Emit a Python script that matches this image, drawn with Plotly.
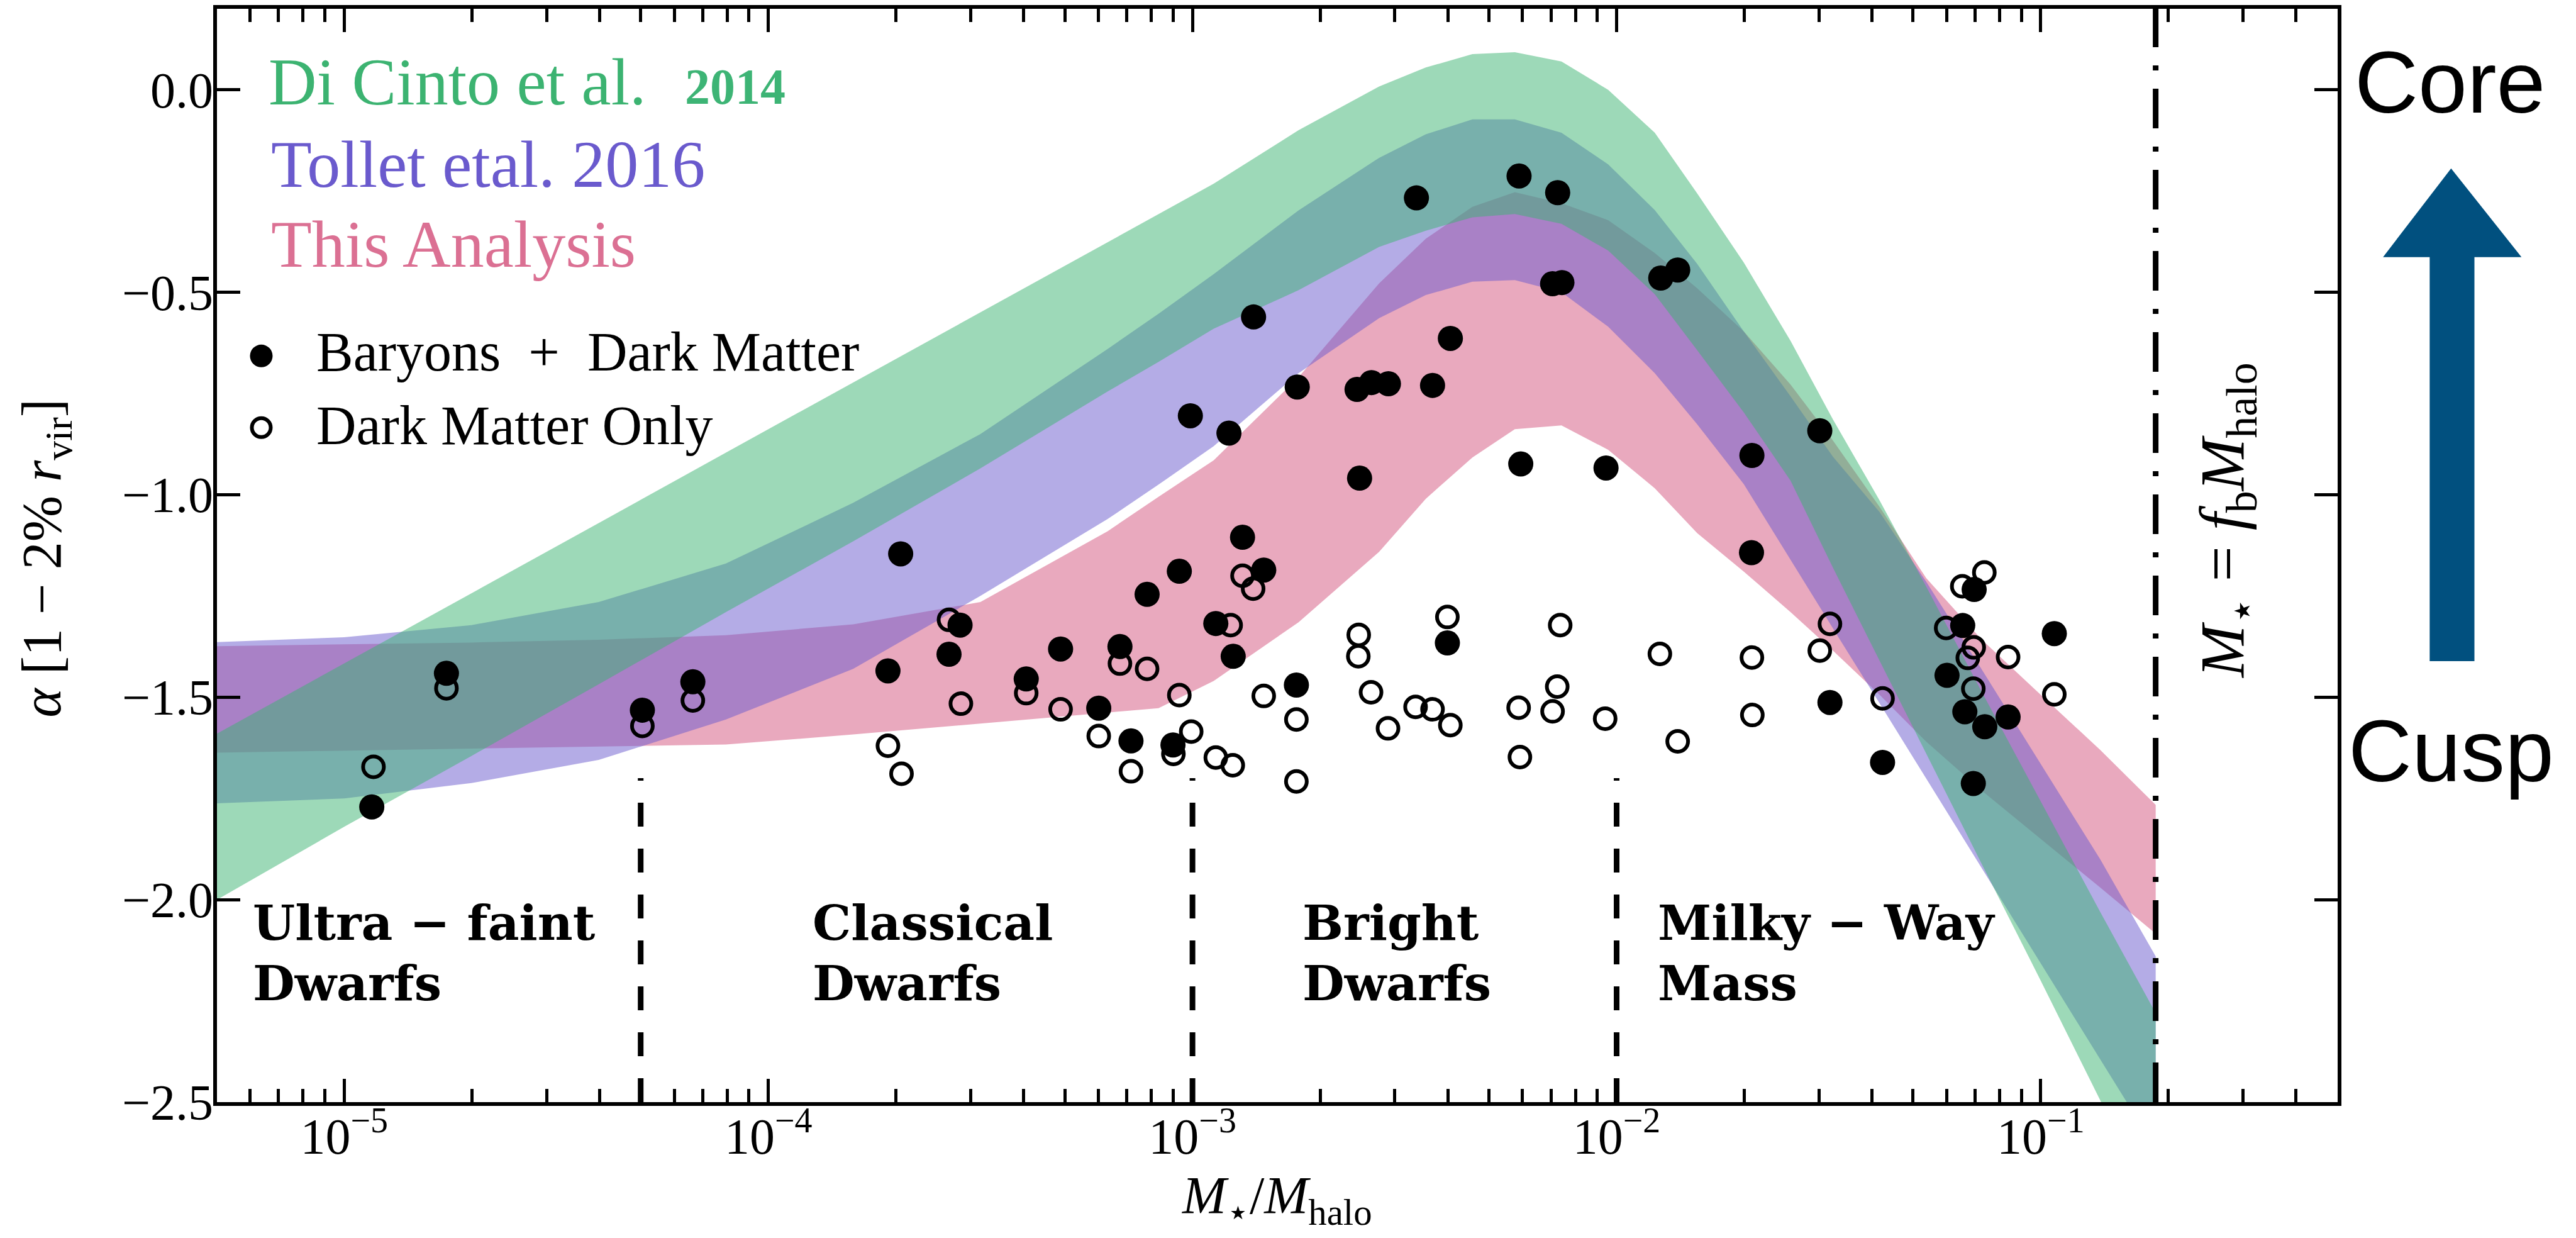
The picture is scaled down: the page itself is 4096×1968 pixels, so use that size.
import numpy as np
import plotly.graph_objects as go

# ---------------- data ----------------
# log10(M_star / M_halo) sample positions of the three bands
band_log_ratio = [-5.3, -5.0, -4.7, -4.4, -4.1, -3.8, -3.5, -3.2, -3.08, -2.95, -2.75, -2.56, -2.45,
                  -2.34, -2.24, -2.13, -2.02, -1.91, -1.81, -1.70, -1.59, -1.49, -1.38, -1.27, -1.14,
                  -1.00, -0.86, -0.729]
dicinto_upper = [-1.590, -1.417, -1.243, -1.070, -0.896, -0.723, -0.550, -0.376, -0.307, -0.232, -0.100,
                 0.008, 0.055, 0.088, 0.093, 0.070, 0.000, -0.106, -0.256, -0.427, -0.620, -0.814,
                 -1.014, -1.227, -1.485, -1.757, -2.030, -2.280]
dicinto_lower = [-2.000, -1.820, -1.645, -1.468, -1.290, -1.115, -0.935, -0.745, -0.672, -0.590, -0.495,
                 -0.388, -0.348, -0.315, -0.307, -0.331, -0.397, -0.505, -0.643, -0.797, -0.965, -1.180,
                 -1.410, -1.640, -1.910, -2.200, -2.495, -2.770]
tollet_upper = [-1.364, -1.352, -1.322, -1.265, -1.170, -1.020, -0.850, -0.640, -0.553, -0.455, -0.298,
                -0.168, -0.110, -0.073, -0.073, -0.106, -0.184, -0.297, -0.430, -0.597, -0.757, -0.906,
                -1.043, -1.215, -1.430, -1.665, -1.900, -2.140]
tollet_lower = [-1.762, -1.750, -1.712, -1.655, -1.555, -1.430, -1.250, -1.060, -0.975, -0.880, -0.700,
                -0.564, -0.507, -0.474, -0.470, -0.500, -0.585, -0.700, -0.826, -0.974, -1.160, -1.330,
                -1.515, -1.700, -1.920, -2.157, -2.394, -2.615]
this_upper = [-1.374, -1.370, -1.365, -1.358, -1.347, -1.320, -1.265, -1.090, -1.005, -0.915, -0.710,
              -0.478, -0.368, -0.289, -0.253, -0.280, -0.322, -0.403, -0.490, -0.597, -0.728, -0.866,
              -1.030, -1.206, -1.357, -1.494, -1.630, -1.766]
this_lower = [-1.637, -1.633, -1.628, -1.622, -1.617, -1.592, -1.565, -1.538, -1.527, -1.460, -1.315,
              -1.141, -1.010, -0.908, -0.838, -0.829, -0.889, -0.984, -1.095, -1.190, -1.290, -1.385,
              -1.494, -1.610, -1.730, -1.850, -1.970, -2.084]

# Baryons + Dark Matter (filled points)
bdm_log_ratio = [-4.935, -4.759, -4.297, -4.178, -3.688, -3.718, -3.574, -3.548, -3.392, -3.311, -3.221,
                 -3.171, -3.145, -3.107, -3.046, -3.031, -3.005, -2.945, -2.914, -2.904, -2.882, -2.856,
                 -2.832, -2.755, -2.753, -2.612, -2.606, -2.578, -2.538, -2.472, -2.434, -2.399, -2.392,
                 -2.230, -2.226, -2.151, -2.129, -2.139, -2.025, -1.896, -1.856, -1.681, -1.682, -1.521,
                 -1.497, -1.373, -1.184, -1.157, -1.221, -1.179, -1.132, -1.077, -1.159, -0.968]
bdm_alpha = [-1.771, -1.441, -1.532, -1.462, -1.146, -1.435, -1.394, -1.322, -1.455, -1.381, -1.527,
             -1.375, -1.608, -1.246, -1.618, -1.189, -0.805, -1.318, -0.848, -1.399, -1.105, -0.561,
             -1.186, -1.470, -0.734, -0.740, -0.959, -0.723, -0.726, -0.267, -0.730, -1.366, -0.614,
             -0.213, -0.924, -0.479, -0.476, -0.254, -0.934, -0.465, -0.445, -0.903, -1.143, -0.842,
             -1.513, -1.661, -1.323, -1.234, -1.446, -1.536, -1.573, -1.549, -1.713, -1.343]

# Dark Matter Only (open points)
dmo_log_ratio = [-4.931, -4.759, -4.297, -4.178, -3.718, -3.686, -3.574, -3.546, -3.392, -3.311, -3.221,
                 -3.171, -3.145, -3.107, -3.045, -3.031, -3.003, -2.945, -2.905, -2.910, -2.882, -2.857,
                 -2.832, -2.755, -2.755, -2.608, -2.609, -2.579, -2.539, -2.474, -2.434, -2.392, -2.399,
                 -2.231, -2.228, -2.133, -2.140, -2.151, -2.027, -1.898, -1.856, -1.681, -1.680, -1.521,
                 -1.497, -1.373, -1.133, -1.185, -1.223, -1.158, -1.172, -1.077, -1.159, -0.968]
dmo_alpha = [-1.672, -1.478, -1.571, -1.508, -1.620, -1.689, -1.309, -1.516, -1.490, -1.530, -1.596,
             -1.417, -1.683, -1.430, -1.640, -1.495, -1.585, -1.649, -1.668, -1.322, -1.200, -1.232,
             -1.497, -1.555, -1.708, -1.346, -1.399, -1.488, -1.577, -1.524, -1.530, -1.569, -1.302,
             -1.526, -1.648, -1.322, -1.474, -1.535, -1.553, -1.393, -1.609, -1.402, -1.544, -1.385,
             -1.319, -1.503, -1.192, -1.226, -1.329, -1.377, -1.403, -1.401, -1.479, -1.493]

regime_bounds = [5e-5, 1e-3, 1e-2]
regime_line_alpha = [-2.5, -1.70]
fb_ratio = 0.1866
fb_line_alpha = [-2.5, 0.2]

xtick_vals = [1e-5, 1e-4, 1e-3, 1e-2, 1e-1]
xtick_text = ["10<sup>−5</sup>", "10<sup>−4</sup>", "10<sup>−3</sup>", "10<sup>−2</sup>", "10<sup>−1</sup>"]
ytick_vals = [-2.5, -2.0, -1.5, -1.0, -0.5, 0.0]
ytick_text = ["−2.5", "−2.0", "−1.5", "−1.0", "−0.5", "0.0"]

# ---------------- styling ----------------
SERIF = "Liberation Serif"
BOLD_SERIF = "DejaVu Serif"
SANS = "Liberation Sans"
GREEN = "#3cb371"
PURPLE = "#6a5acd"
PINK = "#db7093"

band_x = 10 ** np.array(band_log_ratio)

fig = go.Figure()


def add_band(upper, lower, color):
    xs = np.concatenate([band_x, band_x[::-1]])
    ys = np.concatenate([np.array(upper), np.array(lower)[::-1]])
    fig.add_trace(go.Scatter(x=xs, y=ys, mode="lines", fill="toself", fillcolor=color,
                             line=dict(width=0), hoverinfo="skip", showlegend=False))


add_band(this_upper, this_lower, "rgba(219,112,147,0.6)")
add_band(tollet_upper, tollet_lower, "rgba(106,90,205,0.5)")
add_band(dicinto_upper, dicinto_lower, "rgba(60,179,113,0.5)")

for xb in regime_bounds:
    fig.add_trace(go.Scatter(x=[xb, xb], y=regime_line_alpha, mode="lines",
                             line=dict(color="black", width=9, dash="38px,35px"),
                             hoverinfo="skip", showlegend=False))

fig.add_trace(go.Scatter(x=[fb_ratio, fb_ratio], y=fb_line_alpha, mode="lines",
                         line=dict(color="black", width=9, dash="63px,29px,8px,29px"),
                         hoverinfo="skip", showlegend=False))

fig.add_trace(go.Scatter(x=10 ** np.array(dmo_log_ratio), y=dmo_alpha, mode="markers",
                         marker=dict(symbol="circle-open", size=33, color="black",
                                     line=dict(width=6, color="black")),
                         showlegend=False))
fig.add_trace(go.Scatter(x=10 ** np.array(bdm_log_ratio), y=bdm_alpha, mode="markers",
                         marker=dict(symbol="circle", size=40, color="black", line=dict(width=0)),
                         showlegend=False))

minor_vals = [k * 10.0 ** n for n in range(-6, 0) for k in range(2, 10)]
minor_vals = [v for v in minor_vals if 5.0e-6 < v < 0.5]

axis_common = dict(showline=True, linecolor="black", linewidth=6, mirror="ticks",
                   ticks="inside", tickcolor="black", tickwidth=5, ticklen=37,
                   showgrid=False, zeroline=False,
                   tickfont=dict(family=SERIF, size=80, color="black"))

fig.update_xaxes(type="log", range=[-5.3, -0.3], tickmode="array", tickvals=xtick_vals,
                 ticktext=xtick_text, ticklabelstandoff=-20,
                 minor=dict(tickmode="array", tickvals=minor_vals, ticks="inside", ticklen=21,
                            tickwidth=5, tickcolor="black", showgrid=False),
                 **axis_common)
fig.update_yaxes(range=[-2.5, 0.2], tickmode="array", tickvals=ytick_vals, ticktext=ytick_text,
                 ticklabelstandoff=-16, **axis_common)

annotations = []


def txt(text, x, y, size, color="black", family=SERIF, xanchor="left", angle=0, yanchor="middle"):
    annotations.append(dict(text=text, x=x, y=y, xref="paper", yref="paper", showarrow=False,
                            xanchor=xanchor, yanchor=yanchor, textangle=angle,
                            font=dict(family=family, size=size, color=color)))


txt("Di Cinto et al.", 0.0238, 0.9329, 106, GREEN)
txt("<b>2014</b>", 0.2200, 0.9289, 80, "#3db475", family="Liberation Serif")
txt("Tollet etal. 2016", 0.0250, 0.8575, 106, PURPLE)
txt("This Analysis", 0.0250, 0.7844, 106, PINK)
txt("Baryons&#160; + &#160;Dark Matter", 0.0464, 0.6860, 88)
txt("Dark Matter Only", 0.0464, 0.6187, 88)

region_lines = [("Ultra − faint", "Dwarfs", 0.0164), ("Classical", "Dwarfs", 0.2802),
                ("Bright", "Dwarfs", 0.5114), ("Milky − Way", "Mass", 0.6789)]
for l1, l2, xp in region_lines:
    txt("<b>%s</b>" % l1, xp, 0.1640, 77, family=BOLD_SERIF)
    txt("<b>%s</b>" % l2, xp, 0.1086, 77, family=BOLD_SERIF)

txt("<i>M</i><sub>⋆</sub> = <i>f</i><sub>b</sub><i>M</i><sub>halo</sub>", 0.9476, 0.5320, 100,
    xanchor="center", angle=-90)
txt("<i>α</i> [1 − 2% <i>r</i><sub>vir</sub>]", -0.0808, 0.4972, 88, xanchor="center", angle=-90)
txt("<i>M</i><sub>⋆</sub>/<i>M</i><sub>halo</sub>", 0.4998, -0.0890, 84, xanchor="center")

txt("Core", 1.0529, 0.9329, 140, family=SANS, xanchor="center")
txt("Cusp", 1.0535, 0.3211, 140, family=SANS, xanchor="center")

# block arrow (paper coordinates)
sl, sr, hl, hr, tipx = 1.0434, 1.0645, 1.0214, 1.0867, 1.0535
bottom, hb, tipy = 0.4034, 0.7729, 0.8540
arrow_path = (f"M {sl},{bottom} L {sl},{hb} L {hl},{hb} L {tipx},{tipy} L {hr},{hb} "
              f"L {sr},{hb} L {sr},{bottom} Z")
shapes = [dict(type="path", path=arrow_path, xref="paper", yref="paper",
               fillcolor="#01507f", line=dict(width=0))]

# legend keys
shapes.append(dict(type="circle", xref="paper", yref="paper", xsizemode="pixel", ysizemode="pixel",
                   xanchor=0.0209, yanchor=0.6825, x0=-18, x1=18, y0=-18, y1=18,
                   fillcolor="black", line=dict(width=0)))
shapes.append(dict(type="circle", xref="paper", yref="paper", xsizemode="pixel", ysizemode="pixel",
                   xanchor=0.0209, yanchor=0.6169, x0=-15, x1=15, y0=-15, y1=15,
                   fillcolor="rgba(0,0,0,0)", line=dict(width=6, color="black")))

fig.update_layout(width=4096, height=1968,
                  margin=dict(l=344.6, r=379.3, t=14.4, b=216.1, autoexpand=False),
                  paper_bgcolor="white", plot_bgcolor="white",
                  annotations=annotations, shapes=shapes, showlegend=False)

fig.write_html("out.html")
